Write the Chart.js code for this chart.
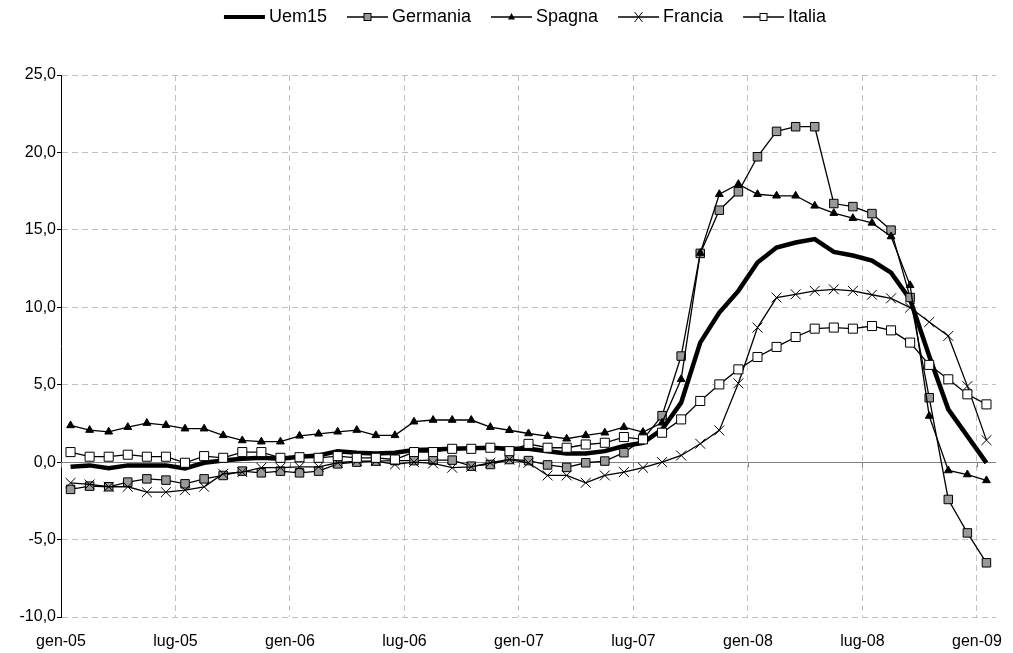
<!DOCTYPE html>
<html>
<head>
<meta charset="utf-8">
<script src="https://cdn.jsdelivr.net/npm/chart.js@4/dist/chart.umd.min.js"></script>
<style>
  html, body { margin: 0; padding: 0; background: #fff; }
  #wrap { width: 1013px; height: 653px; }
</style>
</head>
<body>
<div id="wrap"><canvas id="myChart" width="1013" height="653"></canvas></div>
<script>
// monthly values, gen-05 .. gen-09 (49 months)
var uem15 = [-0.30, -0.21, -0.39, -0.21, -0.21, -0.21, -0.41, -0.04, 0.11, 0.22, 0.28, 0.22,
             0.35, 0.43, 0.71, 0.61, 0.56, 0.61, 0.78, 0.82, 0.86, 0.89, 0.93, 0.86,
             0.86, 0.71, 0.56, 0.56, 0.71, 1.04, 1.25, 2.11, 3.84, 7.72, 9.66, 11.06,
             12.89, 13.86, 14.18, 14.40, 13.58, 13.34, 13.02, 12.24, 10.50, 6.86, 3.41, 1.68,
             -0.05];
var germania = [-1.76, -1.55, -1.59, -1.29, -1.08, -1.16, -1.40, -1.08, -0.86, -0.58, -0.69, -0.58,
                -0.69, -0.58, -0.11, 0.00, 0.07, 0.10, 0.10, 0.13, 0.13, -0.26, -0.15, 0.17,
                0.10, -0.18, -0.34, -0.04, 0.07, 0.61, 1.47, 3.00, 6.85, 13.48, 16.27, 17.46,
                19.72, 21.36, 21.66, 21.66, 16.70, 16.50, 16.05, 14.98, 10.63, 4.16, -2.41, -4.57,
                -6.50];
var spagna = [2.37, 2.07, 1.96, 2.26, 2.52, 2.39, 2.16, 2.16, 1.73, 1.40, 1.32, 1.32,
              1.70, 1.83, 1.96, 2.07, 1.73, 1.73, 2.61, 2.72, 2.72, 2.72, 2.26, 2.06,
              1.85, 1.68, 1.51, 1.73, 1.90, 2.26, 1.94, 2.54, 5.35, 13.50, 17.30, 17.95,
              17.30, 17.20, 17.20, 16.55, 16.08, 15.75, 15.45, 14.57, 11.42, 2.98, -0.54, -0.80,
              -1.18];
var francia = [-1.34, -1.44, -1.59, -1.59, -1.94, -1.94, -1.81, -1.59, -0.75, -0.64, -0.36, -0.36,
               -0.30, -0.30, -0.04, 0.07, 0.07, -0.15, 0.00, -0.08, -0.36, -0.30, -0.04, 0.17,
               -0.04, -0.86, -0.86, -1.33, -0.86, -0.64, -0.36, 0.00, 0.43, 1.19, 2.05, 5.09,
               8.69, 10.63, 10.84, 11.06, 11.16, 11.06, 10.81, 10.58, 9.98, 9.05, 8.15, 4.91,
               1.42];
var italia = [0.65, 0.35, 0.35, 0.48, 0.35, 0.35, -0.04, 0.39, 0.28, 0.65, 0.65, 0.28,
              0.32, 0.28, 0.39, 0.28, 0.28, 0.17, 0.65, 0.65, 0.86, 0.86, 0.93, 0.71,
              1.18, 0.93, 0.93, 1.14, 1.25, 1.62, 1.47, 1.90, 2.76, 3.95, 5.02, 5.99,
              6.79, 7.44, 8.08, 8.62, 8.69, 8.62, 8.79, 8.51, 7.72, 6.28, 5.35, 4.38,
              3.73];

// x tick labels sit on the boundary before every 6th month
var tickLabels = ['gen-05', 'lug-05', 'gen-06', 'lug-06', 'gen-07', 'lug-07', 'gen-08', 'lug-08', 'gen-09'];
var tickPos = [-0.5, 5.5, 11.5, 17.5, 23.5, 29.5, 35.5, 41.5, 47.5];

var FONT = "'Liberation Sans', Arial, sans-serif";

pts = (arr) => arr.map((v, i) => ({x: i, y: v}));

// legend sample: line with marker, drawn on a wide transparent canvas
// (box width 48, canvas centred on it, line from box x+12 to x+53)
makeSample = (lineW, marker) => {
    var c = document.createElement('canvas');
    c.width = 96; c.height = 14;
    var g = c.getContext('2d');
    var mx = 56.5;
    g.strokeStyle = '#000';
    g.lineWidth = lineW;
    g.beginPath(); g.moveTo(36, 7); g.lineTo(77, 7); g.stroke();
    g.lineWidth = 1;
    if (marker == 'grey' || marker == 'white') {
        g.fillStyle = marker == 'grey' ? '#999999' : '#ffffff';
        g.fillRect(mx - 3.5, 3.5, 7, 7);
        g.strokeRect(mx - 3.5, 3.5, 7, 7);
    } else if (marker == 'tri') {
        g.fillStyle = '#000';
        g.beginPath(); g.moveTo(mx, 3); g.lineTo(mx + 3.5, 9.5); g.lineTo(mx - 3.5, 9.5); g.closePath(); g.fill();
    } else if (marker == 'x') {
        g.beginPath();
        g.moveTo(mx - 4, 2); g.lineTo(mx + 4, 12);
        g.moveTo(mx + 4, 2); g.lineTo(mx - 4, 12);
        g.stroke();
    }
    return c;
}

var samples = [makeSample(4, null), makeSample(1.3, 'grey'), makeSample(1.3, 'tri'),
               makeSample(1.3, 'x'), makeSample(1.3, 'white')];

// zero line with small ticks below it
var zeroLine = {
    id: 'zeroLine',
    beforeDatasetsDraw(chart) {
        var ctx = chart.ctx, xs = chart.scales.x, ys = chart.scales.y;
        var y0 = Math.round(ys.getPixelForValue(0)) + 0.5;
        ctx.save();
        ctx.strokeStyle = '#808080';
        ctx.lineWidth = 1;
        ctx.beginPath();
        ctx.moveTo(chart.chartArea.left, y0);
        ctx.lineTo(chart.chartArea.right, y0);
        tickPos.forEach(p => {
            var x = Math.round(xs.getPixelForValue(p)) + 0.5;
            ctx.moveTo(x, y0);
            ctx.lineTo(x, y0 + 5);
        });
        ctx.stroke();
        ctx.restore();
    }
};

// fixed legend height; legend block nudged right like the original
var legendBox = {
    id: 'legendBox',
    beforeInit(chart) {
        var fit = chart.legend.fit;
        chart.legend.fit = function () {
            fit.bind(chart.legend)();
            this.height = 75;
        };
    },
    afterLayout(chart) {
        chart.legend.left += 42;
    }
};

var thin = {borderColor: '#000', borderWidth: 1.3, pointBorderColor: '#000', pointBorderWidth: 1, tension: 0};

var ctx = document.getElementById('myChart').getContext('2d');
var chart = new Chart(ctx, {
    type: 'line',
    data: {
        datasets: [
            {label: 'Uem15', data: pts(uem15), borderColor: '#000', borderWidth: 4.5, pointRadius: 0, order: 5},
            Object.assign({label: 'Germania', data: pts(germania), pointStyle: 'rect', pointRadius: 6,
                           pointBackgroundColor: '#999999', order: 4}, thin),
            Object.assign({label: 'Spagna', data: pts(spagna), pointStyle: 'triangle', pointRadius: 4.5,
                           pointBackgroundColor: '#000', order: 3}, thin),
            Object.assign({label: 'Francia', data: pts(francia), pointStyle: 'crossRot', pointRadius: 7,
                           pointBorderWidth: 1.2, order: 2}, thin),
            Object.assign({label: 'Italia', data: pts(italia), pointStyle: 'rect', pointRadius: 6.4,
                           pointBackgroundColor: '#fff', order: 1}, thin)
        ]
    },
    options: {
        responsive: false,
        animation: false,
        layout: {padding: {left: 0, right: 17, top: 0, bottom: 0}},
        plugins: {
            tooltip: {enabled: false},
            legend: {
                position: 'top',
                labels: {
                    usePointStyle: true,
                    pointStyleWidth: 48,
                    padding: 8,
                    color: '#000',
                    font: {family: FONT, size: 18},
                    sort: (a, b) => a.datasetIndex - b.datasetIndex,
                    generateLabels: (chart) => {
                        var items = Chart.defaults.plugins.legend.labels.generateLabels(chart);
                        items.forEach(it => { it.pointStyle = samples[it.datasetIndex]; });
                        return items;
                    }
                }
            }
        },
        scales: {
            x: {
                type: 'linear',
                min: -0.5,
                max: 48.5,
                afterFit: (s) => { s.height = 36; },
                afterBuildTicks: (s) => { s.ticks = tickPos.map(v => ({value: v})); },
                ticks: {
                    autoSkip: false,
                    maxRotation: 0,
                    padding: 2,
                    color: '#000',
                    font: {family: FONT, size: 16},
                    callback: (v) => tickLabels[tickPos.indexOf(v)]
                },
                grid: {
                    drawTicks: true,
                    tickLength: 13,
                    tickColor: 'rgba(0,0,0,0)',
                    color: (c) => c.tick && c.tick.value == -0.5 ? 'rgba(0,0,0,0)' : '#c0c0c0',
                    lineWidth: 1
                },
                border: {display: false, dash: [6, 4]}
            },
            y: {
                min: -10,
                max: 25,
                afterFit: (s) => { s.width = 61; },
                ticks: {
                    stepSize: 5,
                    padding: 1,
                    color: '#000',
                    font: {family: FONT, size: 16},
                    callback: (v) => v.toFixed(1).replace('.', ',')
                },
                grid: {
                    color: (c) => c.tick && c.tick.value == 0 ? 'rgba(0,0,0,0)' : '#c0c0c0',
                    tickColor: '#000',
                    tickLength: 4,
                    tickBorderDash: [],
                    lineWidth: 1
                },
                border: {display: true, color: '#000', width: 1, dash: [6, 4]}
            }
        }
    },
    plugins: [zeroLine, legendBox]
});
</script>
</body>
</html>
